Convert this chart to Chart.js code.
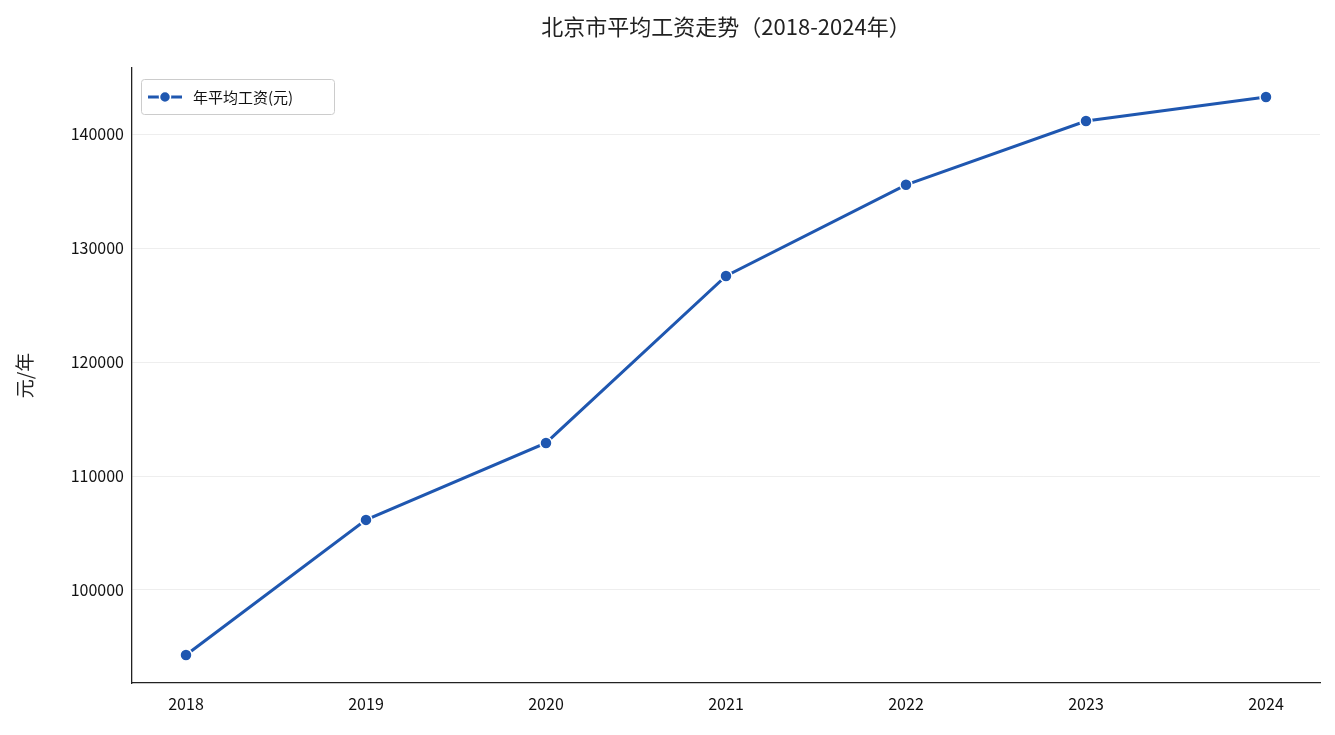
<!DOCTYPE html>
<html><head><meta charset="utf-8">
<script src="https://cdn.jsdelivr.net/npm/chart.js@4"></script>
<style>html,body{margin:0;padding:0;background:#fff}#w{width:1335px;height:735px}</style>
</head><body><div id="w"><canvas id="c"></canvas></div>
<script>
const years = [2018, 2019, 2020, 2021, 2022, 2023, 2024];
const wages = [94300, 106150, 112900, 127550, 135550, 141150, 143250];
const yTicks = [100000, 110000, 120000, 130000, 140000];
const FONT = "'Noto Sans CJK SC','Noto Sans',sans-serif";
const color = '#1f57b0';

const overlay = {
  id: 'overlay',
  afterDraw(chart) {
    const ctx = chart.ctx, a = chart.chartArea;
    ctx.save();
    ctx.fillStyle = '#222';
    ctx.font = `22px ${FONT}`;
    ctx.textAlign = 'center'; ctx.textBaseline = 'middle';
    ctx.fillText('北京市平均工资走势（2018-2024年）', (a.left + a.right) / 2, 27);
    ctx.translate(25, (a.top + a.bottom) / 2);
    ctx.rotate(-Math.PI / 2);
    ctx.font = `19px ${FONT}`;
    ctx.fillText('元/年', 0, 0);
    ctx.restore();
    // legend
    ctx.save();
    const lx = a.left + 9, ly = a.top + 11, lw = 193, lh = 35;
    ctx.fillStyle = 'rgba(255,255,255,0.85)';
    ctx.strokeStyle = '#ccc'; ctx.lineWidth = 1;
    ctx.beginPath(); ctx.roundRect(lx + 0.5, ly + 0.5, lw, lh, 3); ctx.fill(); ctx.stroke();
    ctx.strokeStyle = color; ctx.lineWidth = 3;
    ctx.beginPath(); ctx.moveTo(lx + 7, ly + 18); ctx.lineTo(lx + 41, ly + 18); ctx.stroke();
    ctx.fillStyle = color; ctx.strokeStyle = '#fff'; ctx.lineWidth = 1.5;
    ctx.beginPath(); ctx.arc(lx + 24, ly + 18, 5.5, 0, Math.PI * 2); ctx.fill(); ctx.stroke();
    ctx.fillStyle = '#111'; ctx.font = `15px ${FONT}`;
    ctx.textAlign = 'left'; ctx.textBaseline = 'middle';
    ctx.fillText(chart.data.datasets[0].label, lx + 52, ly + 18);
    ctx.restore();
  }
};

new Chart(document.getElementById('c'), {
  type: 'line',
  data: { datasets: [{
    label: '年平均工资(元)',
    data: years.map((y, i) => ({ x: y, y: wages[i] })),
    borderColor: color, backgroundColor: color, borderWidth: 3,
    pointRadius: 6, pointHoverRadius: 6, pointBorderColor: '#fff', pointBorderWidth: 1.5,
    tension: 0
  }]},
  options: {
    responsive: true, maintainAspectRatio: false, animation: false,
    layout: { padding: { top: 68, right: 15, left: 0, bottom: 0 } },
    plugins: { legend: { display: false }, title: { display: false }, tooltip: { enabled: false } },
    scales: {
      x: {
        type: 'linear', min: 2017.7, max: 2024.3,
        afterBuildTicks: s => { s.ticks = years.map(v => ({ value: v })); },
        afterFit: s => { s.height = 52; },
        grid: { display: false, drawTicks: true },
        border: { color: '#222', width: 1.3 },
        ticks: { color: '#111', font: { family: FONT, size: 16 }, callback: v => String(v) }
      },
      y: {
        min: 91840, max: 145800,
        afterBuildTicks: s => { s.ticks = yTicks.map(v => ({ value: v })); },
        afterFit: s => { s.width = 132; },
        grid: { color: '#eeeeee', lineWidth: 1, drawTicks: false },
        border: { color: '#222', width: 1.3 },
        ticks: { color: '#111', padding: 8, font: { family: FONT, size: 16 }, callback: v => String(v) }
      }
    }
  },
  plugins: [overlay]
});
</script></body></html>
